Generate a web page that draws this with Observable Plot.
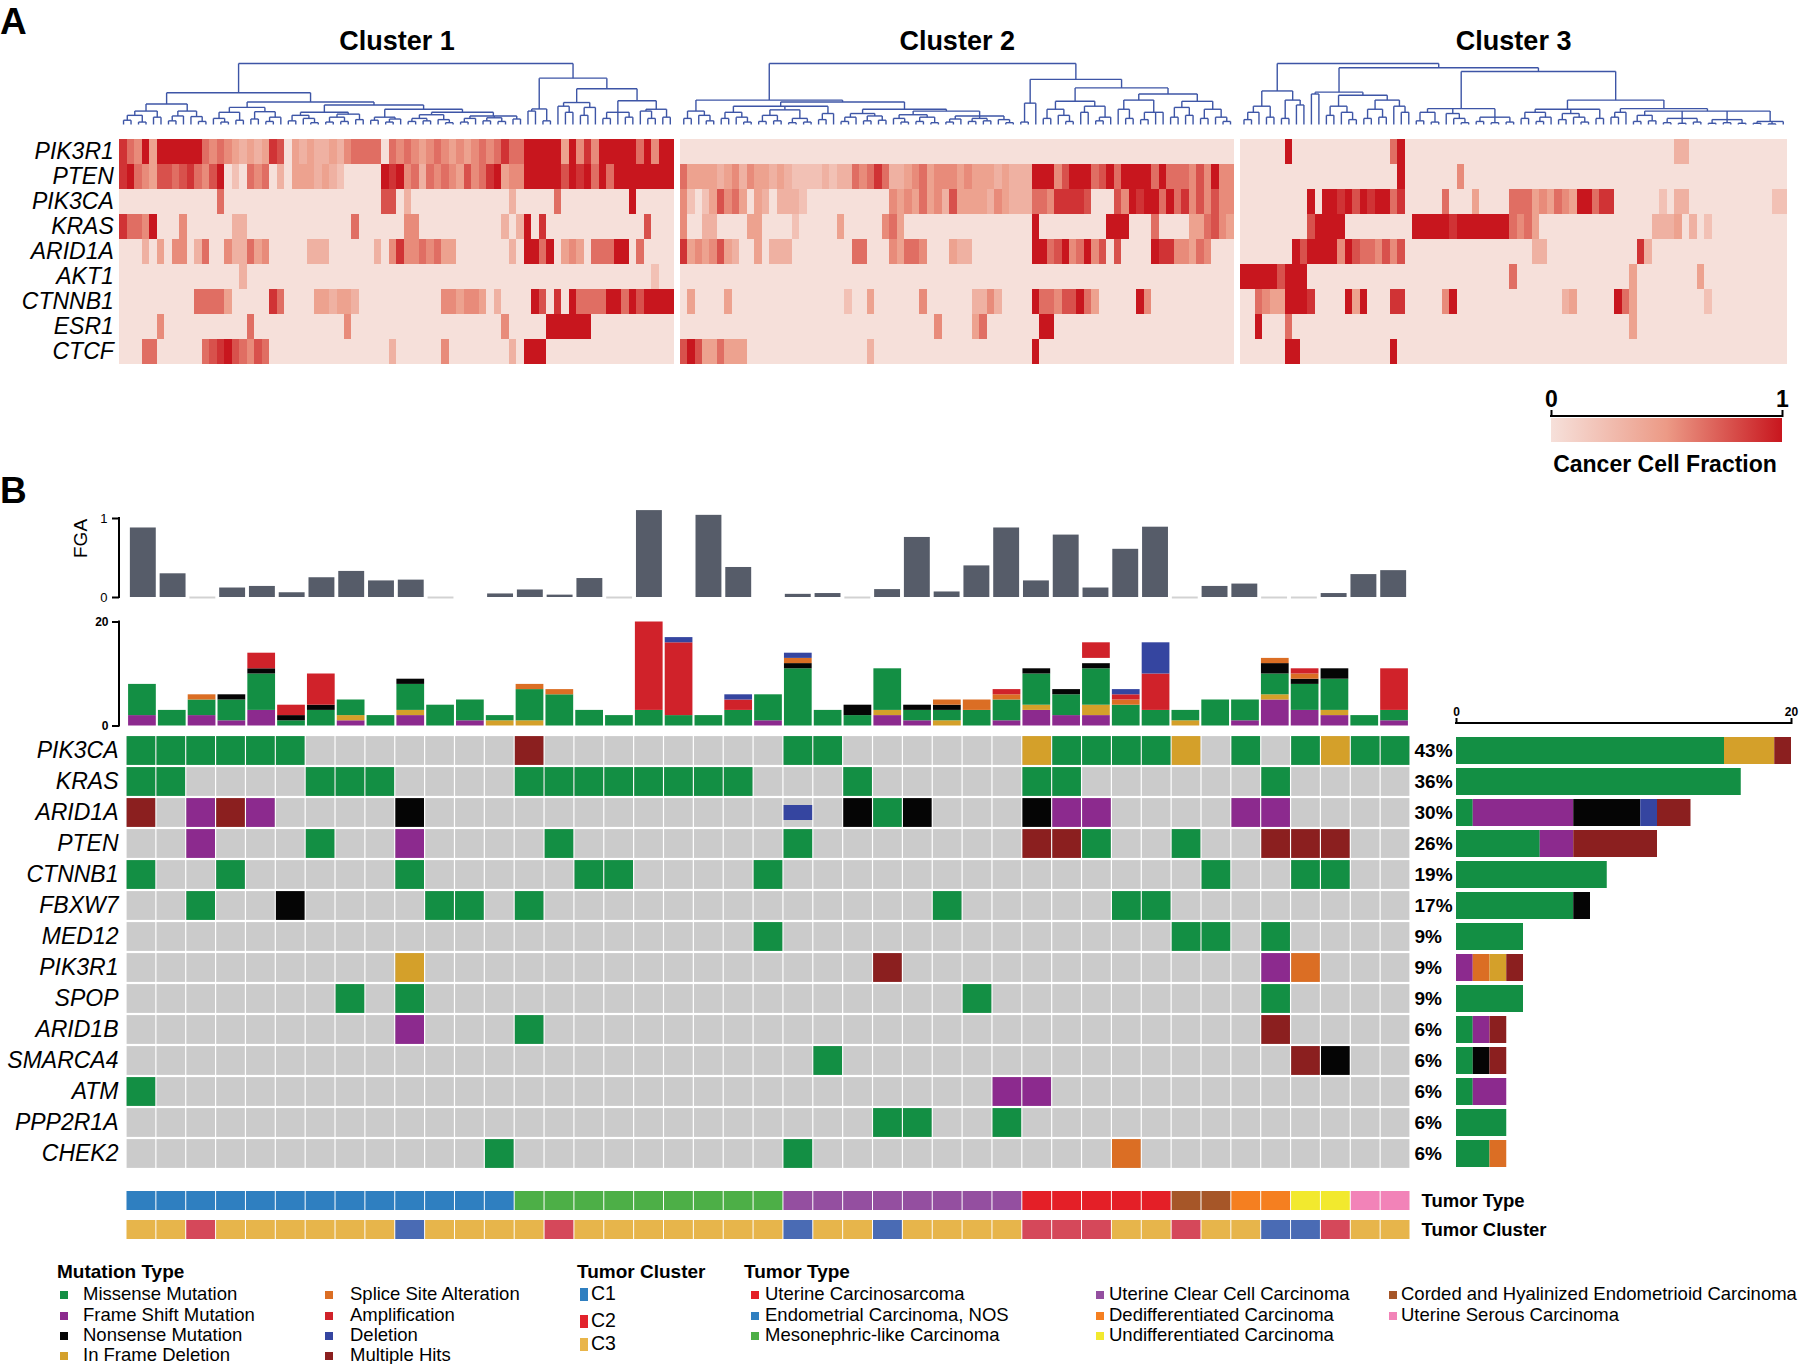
<!DOCTYPE html>
<html><head><meta charset="utf-8">
<script src="https://cdn.jsdelivr.net/npm/d3@7"></script>
<script src="https://cdn.jsdelivr.net/npm/@observablehq/plot@0.6"></script>
<style>
body{margin:0;background:#fff;}
#root{position:relative;width:1800px;height:1364px;overflow:hidden;font-family:"Liberation Sans",Arial,sans-serif;color:#000;background:#fff;}
</style></head><body><div id="root"></div>
<script>
// ---------------- DATA: Panel A (cancer cell fraction, digits 0-9 => 0..1) ----------------
const heatGenes = ["PIK3R1","PTEN","PIK3CA","KRAS","ARID1A","AKT1","CTNNB1","ESR1","CTCF"];
const clusterNames = ["Cluster 1","Cluster 2","Cluster 3"];
const clusterCols = [74, 74, 73];
const clusterStart = [0, 74.8, 149.6];
// each gene: [cluster1, cluster2, cluster3]
const ccfPIK3R1 = [
  "8659499999"+"9656543434"+"8704343343"+"5666606565"+"4565454565"+"6866999994"+"9585999996"+"9599",
  "0000000000"+"0000000000"+"0000000000"+"0000000000"+"0000000000"+"0000000000"+"0000000000"+"0000",
  "0000009000"+"0000000000"+"6900000000"+"0000000000"+"0000000000"+"0000000033"+"0000000000"+"000"];
const ccfPTEN = [
  "8965477678"+"6579020656"+"0304443432"+"0000098956"+"3656547568"+"9455999997"+"9896969999"+"9999",
  "6444434535"+"4434322223"+"2336568633"+"4564555454"+"4434333999"+"5799967969"+"9996966657"+"5955",
  "0000000000"+"0000000000"+"0900000005"+"0000000000"+"0000000000"+"0000000000"+"0000000000"+"000"];
const ccfPIK3CA = [
  "0000000000"+"0006000000"+"0000000000"+"0000077030"+"0000000000"+"0030000060"+"0000000090"+"0000",
  "5202475640"+"4303332000"+"0000000054"+"5464537444"+"4354333665"+"8888700075"+"9899696857"+"5755",
  "0000000009"+"0998979899"+"6800000600"+"0400006664"+"5465499688"+"0000002033"+"0000000000"+"022"];
const ccfKRAS = [
  "8665900050"+"0000033000"+"0000000000"+"0600000055"+"0000000000"+"0303908000"+"0000000000"+"7000",
  "5003300004"+"4000020000"+"0400000564"+"0000000000"+"0000000900"+"0000000999"+"0006000044"+"6754",
  "0000000007"+"9999000000"+"0009999989"+"9999996564"+"0000000000"+"0000033340"+"3020000000"+"000"];
const ccfARID1A = [
  "0003040550"+"3600533645"+"0000033300"+"0000305855"+"6564400000"+"0030996904"+"5406669906"+"0000",
  "8454574300"+"4033300000"+"0006600054"+"6650004330"+"0000000996"+"7956957070"+"0009885546"+"5000",
  "0000000979"+"9995976657"+"5700000000"+"0000000003"+"3000000000"+"0008300000"+"0000000000"+"000"];
const ccfAKT1 = [
  "0000000000"+"0000003000"+"0000000000"+"0000000000"+"0000000000"+"0000000000"+"0000000000"+"0200",
  "0000000000"+"0000000000"+"0000000000"+"0000000000"+"0000000000"+"0000000000"+"0000000000"+"0000",
  "9999979990"+"0000000000"+"0000000000"+"0000006000"+"0000000000"+"0040000000"+"0400000000"+"000"];
const ccfCTNNB1 = [
  "0000000000"+"6666400000"+"8600004434"+"4300000000"+"0005545540"+"3000097080"+"9666699697"+"9999",
  "0400004000"+"0000000000"+"0020040000"+"0050000003"+"3530000966"+"5779640000"+"0950000000"+"0000",
  "0065449998"+"0000949000"+"8800000590"+"0000000000"+"0003400000"+"9640000000"+"0020000000"+"000"];
const ccfESR1 = [
  "0000050000"+"0000000600"+"0000000000"+"5000000000"+"0000000000"+"0500000999"+"9990000000"+"0000",
  "0000000000"+"0000000000"+"0000000000"+"0000500004"+"6000000099"+"0000000000"+"0000000000"+"0000",
  "0090006000"+"0000000000"+"0000000000"+"0000000000"+"0000000000"+"0040000000"+"0000000000"+"000"];
const ccfCTCF = [
  "0006600000"+"0678976576"+"0000000000"+"0000003000"+"0005000000"+"0030999000"+"0000000000"+"0000",
  "7974464440"+"0000000000"+"0000030000"+"0000000000"+"0000000900"+"0000000000"+"0000000000"+"0000",
  "0000009900"+"0000000000"+"9000000000"+"0000000000"+"0000000000"+"0000000000"+"0000000000"+"000"];
const heatRows = [ccfPIK3R1, ccfPTEN, ccfPIK3CA, ccfKRAS, ccfARID1A, ccfAKT1, ccfCTNNB1, ccfESR1, ccfCTCF];

// dendrograms: node = [height, ...children], leaf = 0
const dendro1 = [1.0,
  [0.52,
    [0.335,
      [0.22,[0.15,[0.07,0,0],[0.04,0,0]],[0.12,0,0]],
      [0.22,[0.14,[0.06,0,0],0],[0.13,0,[0.05,0,0]]]],
    [0.37,
      [0.28,[0.2,[0.1,0,[0.04,0,0]],[0.07,0,0]],[0.21,[0.09,0,0],[0.12,[0.05,0,0],0]]],
      [0.32,
        [0.2,[0.15,[0.06,0,0],[0.1,0,[0.03,0,0]]],[0.17,[0.12,[0.04,0,0],[0.05,0,0]],[0.08,0,0]]],
        [0.25,
          [0.12,[0.07,0,0],[0.09,[0.04,0,0],0]],
          [0.2,
            [0.16,[0.1,[0.05,0,0],[0.06,0,0]],[0.08,0,[0.03,0,0]]],
            [0.14,[0.1,[0.04,0,0],0],[0.11,[0.06,0,0],[0.05,0,0]],[0.09,0,0]]]]]]],
  [0.76,
    [0.255,[0.22,0,0],[0.06,0,0]],
    [0.585,
      [0.36,[0.3,0,[0.2,0,0]],[0.28,[0.15,0,0],0]],
      [0.39,[0.2,[0.1,0,0],0,[0.12,0,0]],[0.25,[0.22,0,[0.1,0,0]],[0.12,0,0]]]]]];
const dendro2 = [1.0,
  [0.40,
    [0.22,[0.1,0,0],[0.15,0,[0.06,0,0]]],
    [0.37,
      [0.3,[0.2,[0.1,0,0],[0.12,0,[0.04,0,0]]],[0.24,[0.15,[0.05,0,0],[0.06,0,0]],[0.1,[0.03,0,0],[0.04,0,0]]],[0.18,[0.08,0,0],0]],
      [0.25,
        [0.18,[0.12,[0.05,0,0],0],[0.14,[0.06,0,0],[0.07,0,0]]],
        [0.22,
          [0.16,[0.1,0,[0.04,0,0]],[0.12,[0.05,0,0],[0.03,0,0]]],
          [0.14,[0.09,[0.04,0,0],0],[0.1,[0.05,0,0],[0.06,0,0]],[0.08,0,[0.03,0,0]]]]]]],
  [0.74,
    [0.35,[0.04,0,0],0],
    [0.6,
      [0.38,[0.25,[0.1,0,0],[0.15,0,[0.05,0,0]]],[0.3,[0.2,0,0],[0.12,[0.06,0,0],0]]],
      [0.5,[0.4,[0.25,0,[0.1,0,0]],[0.2,[0.08,0,0],0,0]],[0.38,[0.28,[0.12,0,0],[0.15,0,0]],[0.25,[0.1,0,0],[0.12,0,[0.05,0,0]]]]]]]];
const dendro3 = [1.0,
  [0.55,
    [0.3,[0.2,[0.08,0,0],0],[0.12,0,0]],
    [0.4,[0.1,0,0],[0.32,0,0]]],
  [0.93,
    [0.53,
      [0.5,0,0],
      [0.48,[0.3,[0.15,0,0],[0.2,0,[0.08,0,0]]],[0.4,[0.25,[0.1,0,0],[0.12,0,0]],[0.3,0,[0.2,0,0]]]]],
    [0.87,
      [0.26,[0.2,[0.06,0,0],[0.04,0,0]],[0.18,0,[0.1,0,[0.03,0,0]]],[0.12,[0.05,0,0],[0.03,0,0],[0.04,0,0]]],
      [0.40,
        [0.25,[0.2,[0.1,0,0],[0.12,[0.05,0,0],0]],[0.18,[0.08,0,0],[0.12,0,[0.04,0,0]]],[0.1,0,0]],
        [0.26,[0.2,[0.12,0,0],0],[0.22,[0.15,[0.05,0,0],[0.06,0,0]],[0.1,[0.03,0,0],[0.02,0,0],[0.04,0,0]],[0.08,[0.02,0,0],[0.03,0,0],[0.02,0,0]],[0.05,[0.02,0,0],[0.01,0,0],0]]]]]]];
const dendros = [dendro1, dendro2, dendro3];

const ccfColorDomain = [0, 0.5, 1];
const ccfColorRange = ["#f6e0da", "#ec9a86", "#c8161e"];

// ---------------- DATA: Panel B ----------------
const fga = [0.88,0.30,0,0.12,0.14,0.06,0.25,0.33,0.21,0.22, 0,null,0.045,0.095,0.03,0.24,0,1.10,null,1.04,
             0.38,null,0.04,0.05,0,0.10,0.76,0.07,0.40,0.88, 0.21,0.79,0.12,0.61,0.89,0,0.14,0.17,0,0, 0.05,0.29,0.34];
const countFrameShift = [2,0,2,1,3,0,0,1,0,2, 0,1,0,0,0,0,0,0,0,0, 0,1,0,0,0,2,1,0,0,1, 3,2,2,0,0,0,0,1,5,3, 2,0,1];
const countInFrame    = [0,0,0,0,0,0,0,1,0,1, 0,0,1,1,0,0,0,0,0,0, 0,0,0,0,0,1,0,1,0,0, 1,0,2,0,0,1,0,0,1,0, 1,0,0];
const countMissense   = [6,3,3,4,7,1,3,3,2,5, 4,4,1,6,6,3,2,3,2,2, 3,5,11,3,2,8,2,2,3,4, 6,4,7,4,3,2,5,4,4,5, 6,2,2];
const countNonsense   = [0,0,0,1,1,1,1,0,0,1, 0,0,0,0,0,0,0,0,0,0, 0,0,1,0,2,0,1,1,0,0, 1,1,1,0,0,0,0,0,2,1, 2,0,0];
const countSplice     = [0,0,1,0,0,0,0,0,0,0, 0,0,0,1,1,0,0,0,0,0, 0,0,1,0,0,0,0,1,2,1, 0,0,0,1,0,0,0,0,1,1, 0,0,0];
const countUnlabeled  = [0,0,0,0,0,0,0,0,0,0, 0,0,0,0,0,0,0,0,0,0, 0,0,0,0,0,0,0,0,0,0, 0,0,1,0,0,0,0,0,0,0, 0,0,0];
const countAmp        = [0,0,0,0,3,2,6,0,0,0, 0,0,0,0,0,0,0,17,14,0, 2,0,0,0,0,0,0,0,0,1, 0,0,3,1,7,0,0,0,0,1, 0,0,8];
const countDeletion   = [0,0,0,0,0,0,0,0,0,0, 0,0,0,0,0,0,0,0,1,0, 1,0,1,0,0,0,0,0,0,0, 0,0,0,1,6,0,0,0,0,0, 0,0,0];

const genes = ["PIK3CA","KRAS","ARID1A","PTEN","CTNNB1","FBXW7","MED12","PIK3R1","SPOP","ARID1B","SMARCA4","ATM","PPP2R1A","CHEK2"];
const genePct = [43,36,30,26,19,17,9,9,9,6,6,6,6,6];
// M missense, F frame shift, N nonsense, I in-frame deletion, S splice, A amplification, D deletion, H multiple hits
const oncoPIK3CA  = "MMMMMM...."+"...H......"+"..MM......"+"IMMMMI.M.M"+"IMM";
const oncoKRAS    = "MM....MMM."+"...MMMMMMM"+"M...M....."+"MM......M."+"...";
const oncoARID1A  = "H.FHF....N"+".........."+"..D.NMN..."+"NFF....FF."+"...";
const oncoPTEN    = "..F...M..F"+"....M....."+"..M......."+"HHM..M..HH"+"H..";
const oncoCTNNB1  = "M..M.....M"+".....MM..."+".M........"+"......M..M"+"M..";
const oncoFBXW7   = "..M..N...."+"MM.M......"+".......M.."+"...MM....."+"...";
const oncoMED12   = ".........."+".........."+".M........"+".....MM.M."+"...";
const oncoPIK3R1  = ".........I"+".........."+".....H...."+"........FS"+"...";
const oncoSPOP    = ".......M.M"+".........."+"........M."+"........M."+"...";
const oncoARID1B  = ".........F"+"...M......"+".........."+"........H."+"...";
const oncoSMARCA4 = ".........."+".........."+"...M......"+".........H"+"N..";
const oncoATM     = "M........."+".........."+".........F"+"F........."+"...";
const oncoPPP2R1A = ".........."+".........."+".....MM..M"+".........."+"...";
const oncoCHEK2   = ".........."+"..M......."+"..M......."+"...S......"+"...";
const oncoRows = [oncoPIK3CA,oncoKRAS,oncoARID1A,oncoPTEN,oncoCTNNB1,oncoFBXW7,oncoMED12,oncoPIK3R1,oncoSPOP,oncoARID1B,oncoSMARCA4,oncoATM,oncoPPP2R1A,oncoCHEK2];

const mutCodes  = ["M","F","N","I","S","A","D","H","G"];
const mutNames  = ["Missense Mutation","Frame Shift Mutation","Nonsense Mutation","In Frame Deletion","Splice Site Alteration","Amplification","Deletion","Multiple Hits",""];
const mutColors = ["#138f44","#8c2a8e","#050505","#d4a02a","#db6e24","#d0222a","#3545a0","#8b1f1f","#ffffff"];

const tumorTypeNames  = ["Uterine Carcinosarcoma","Endometrial Carcinoma, NOS","Mesonephric-like Carcinoma","Uterine Clear Cell Carcinoma","Dedifferentiated Carcinoma","Undifferentiated Carcinoma","Corded and Hyalinized Endometrioid Carcinoma","Uterine Serous Carcinoma"];
const tumorTypeColors = ["#e41f27","#2f7fc0","#4daf47","#944fa0","#f57f20","#f2e92e","#a65628","#f283b8"];
const tumorTypeBySample = [1,1,1,1,1,1,1,1,1,1,1,1,1, 2,2,2,2,2,2,2,2,2, 3,3,3,3,3,3,3,3, 0,0,0,0,0, 6,6, 4,4, 5,5, 7,7];
const tumorClusterBySample = [3,3,2,3,3,3,3,3,3,1, 3,3,3,3,2,3,3,3,3,3, 3,3,1,3,3,1,3,3,3,3, 2,2,2,3,3,2,3,3,1,1, 2,3,3];
const clusterAnnotColors  = ["#4a6bb4","#d5485a","#e7b54b"];
const clusterLegendColors = ["#2f7fc0","#e2222b","#e9b54a"];

// ---------------- helpers ----------------
const FONT = '"Liberation Sans", Arial, sans-serif';
const root = document.getElementById("root");
const baseStyle = {background: "transparent", overflow: "visible", fontFamily: FONT, color: "#000"};
function place(node, top) {
  node.style.position = "absolute"; node.style.left = "0px"; node.style.top = top + "px";
  node.style.maxWidth = "none";
  root.appendChild(node);
}
function addText(txt, x, baseline, size, o = {}) {
  const d = document.createElement("div");
  d.textContent = txt;
  Object.assign(d.style, {position: "absolute", left: x + "px", top: (baseline - 0.85 * size) + "px",
    fontSize: size + "px", fontWeight: o.weight || "normal", lineHeight: "1", whiteSpace: "nowrap"});
  if (o.anchor === "middle") d.style.transform = "translateX(-50%)";
  root.appendChild(d);
}
function addSwatch(color, x, cy, w = 8, h = 8) {
  const d = document.createElement("div");
  Object.assign(d.style, {position: "absolute", left: x + "px", top: (cy - h / 2) + "px", width: w + "px", height: h + "px", background: color});
  root.appendChild(d);
}
const domainLine = (dir, a, b) => (index, scales, values, dims) => {
  const l = d3.create("svg:line").attr("stroke", "#000").attr("stroke-width", 2);
  if (dir === "y") {
    const x = dims.marginLeft;
    l.attr("x1", x).attr("x2", x).attr("y1", scales.y(a) + 1).attr("y2", scales.y(b) - 1);
  } else {
    const y = dims.marginTop;
    l.attr("y1", y).attr("y2", y).attr("x1", scales.x(a) - 1).attr("x2", scales.x(b) + 1);
  }
  return l.node();
};

// ---------------- Panel A: dendrograms ----------------
function dendroSegments(spec, start, nCols) {
  let k = 0;
  function walk(n) {
    if (!Array.isArray(n)) return {x: k++, h: 0};
    const [h, ...kids] = n;
    const cs = kids.map(walk);
    return {x: (cs[0].x + cs[cs.length - 1].x) / 2, h, cs};
  }
  const tree = walk(spec);
  const X = (x) => start + (x + 0.5) * nCols / k;
  const segs = [];
  (function emit(n) {
    if (!n.cs) return;
    segs.push({x1: X(n.cs[0].x), x2: X(n.cs[n.cs.length - 1].x), y1: n.h, y2: n.h});
    for (const c of n.cs) { segs.push({x1: X(c.x), x2: X(c.x), y1: c.h, y2: n.h}); emit(c); }
  })(tree);
  return segs;
}
const dendroSegs = dendros.flatMap((t, i) => dendroSegments(t, clusterStart[i], clusterCols[i]));
const titles = clusterNames.map((name, i) => ({name, x: clusterStart[i] + clusterCols[i] / 2}));
const xDomainA = [0, clusterStart[2] + clusterCols[2]];

place(Plot.plot({
  width: 1800, height: 110, marginLeft: 119.3, marginRight: 13.5, marginTop: 43, marginBottom: 6,
  style: baseStyle,
  x: {domain: xDomainA, axis: null},
  y: {domain: [0, 1], axis: null},
  marks: [
    Plot.link(dendroSegs, {x1: "x1", y1: "y1", x2: "x2", y2: "y2", stroke: "#3d55a6", strokeWidth: 1.4}),
    Plot.text(titles, {x: "x", text: "name", frameAnchor: "top", lineAnchor: "bottom", dy: -14, fontSize: 27, fontWeight: "bold", fill: "#000"})
  ]
}), 20);

// ---------------- Panel A: heatmap ----------------
const heatCells = heatGenes.flatMap((g, gi) => heatRows[gi].flatMap((s, ci) =>
  Array.from(s.slice(0, clusterCols[ci]), (ch, j) => ({gene: g, x1: clusterStart[ci] + j, x2: clusterStart[ci] + j + 1, v: (+ch) / 9}))));

place(Plot.plot({
  width: 1800, height: 240, marginLeft: 119.3, marginRight: 13.5, marginTop: 5.5, marginBottom: 2.6,
  style: baseStyle,
  x: {domain: xDomainA, axis: null},
  y: {domain: heatGenes, padding: 0, label: null},
  color: {type: "linear", domain: ccfColorDomain, range: ccfColorRange},
  marks: [
    Plot.barX(heatCells, {x1: "x1", x2: "x2", y: "gene", fill: "v", shapeRendering: "crispEdges"}),
    Plot.axisY({tickSize: 0, tickPadding: 6, fontSize: 23, fontStyle: "italic", fill: "#000", label: null})
  ]
}), 130);

// ---------------- Panel A: CCF legend ----------------
const ccfRamp = (index, scales, values, dims) => {
  const g = d3.create("svg:g");
  const grad = g.append("defs").append("linearGradient").attr("id", "ccfgrad");
  ccfColorDomain.forEach((v, i) => grad.append("stop").attr("offset", v * 100 + "%").attr("stop-color", ccfColorRange[i]));
  g.append("rect").attr("x", scales.x(0)).attr("width", scales.x(1) - scales.x(0))
    .attr("y", dims.marginTop + 2).attr("height", dims.height - dims.marginBottom - dims.marginTop - 2)
    .attr("fill", "url(#ccfgrad)");
  return g.node();
};
place(Plot.plot({
  width: 1800, height: 65, marginLeft: 1551, marginRight: 18, marginTop: 31, marginBottom: 8,
  style: baseStyle,
  x: {domain: [0, 1]},
  marks: [
    ccfRamp,
    Plot.axisX({anchor: "top", ticks: [0, 1], tickSize: 7, tickPadding: 3, fontSize: 23, fontWeight: "bold", strokeWidth: 2, tickFormat: d3.format("d"), label: null}),
    domainLine("x", 0, 1)
  ]
}), 385);
addText("Cancer Cell Fraction", 1665, 473, 23, {weight: "bold", anchor: "middle"});

// ---------------- Panel B: FGA ----------------
const cols = d3.range(fga.length);
const fgaData = fga.map((v, i) => ({i, v})).filter(d => d.v != null);
place(Plot.plot({
  width: 1800, height: 100, marginLeft: 119, marginRight: 390, marginTop: 18, marginBottom: 3,
  style: baseStyle,
  x: {type: "band", domain: cols, range: [126, 1410], padding: 0.13, axis: null},
  y: {domain: [0, 1]},
  marks: [
    Plot.barY(fgaData.filter(d => d.v > 0), {x: "i", y: "v", fill: "#565c69"}),
    Plot.tickY(fgaData.filter(d => d.v === 0), {x: "i", y: "v", stroke: "#d2d2d2", strokeWidth: 2}),
    Plot.axisY({ticks: [0, 1], tickSize: 7, tickPadding: 5, fontSize: 13, strokeWidth: 2, tickFormat: d3.format("d"), label: null}),
    domainLine("y", 0, 1),
    Plot.text(["FGA"], {text: d => d, frameAnchor: "left", dx: -39, rotate: -90, fontSize: 19, fill: "#000"})
  ]
}), 500);

// ---------------- Panel B: mutation counts ----------------
const countSeries = [["F", countFrameShift], ["I", countInFrame], ["M", countMissense], ["N", countNonsense],
                     ["S", countSplice], ["G", countUnlabeled], ["A", countAmp], ["D", countDeletion]];
const countData = [];
cols.forEach(i => countSeries.forEach(([t, arr]) => { if (arr[i] > 0) countData.push({i, type: t, n: arr[i]}); }));
place(Plot.plot({
  width: 1800, height: 120, marginLeft: 119, marginRight: 390, marginTop: 11.5, marginBottom: 4.5,
  style: baseStyle,
  x: {type: "band", domain: cols, range: [126, 1410], padding: 0.07, axis: null},
  y: {domain: [0, 20]},
  color: {domain: mutCodes, range: mutColors},
  marks: [
    Plot.barY(countData, {x: "i", y: "n", fill: "type"}),
    Plot.axisY({ticks: [0, 20], tickSize: 7, tickPadding: 4, fontSize: 12, fontWeight: "bold", strokeWidth: 2, label: null}),
    domainLine("y", 0, 20)
  ]
}), 610);

// ---------------- Panel B: oncoprint grid ----------------
const bgCells = genes.flatMap(g => cols.map(i => ({gene: g, i})));
const mutCells = genes.flatMap((g, gi) => Array.from(oncoRows[gi]).map((c, i) => ({gene: g, i, t: c})).filter(d => d.t !== "."));
place(Plot.plot({
  width: 1800, height: 445, marginLeft: 126, marginRight: 390, marginTop: 4.7, marginBottom: 6.3,
  style: baseStyle,
  x: {type: "band", domain: cols, padding: 0, axis: null},
  y: {domain: genes, padding: 0},
  color: {domain: mutCodes, range: mutColors},
  marks: [
    Plot.cell(bgCells, {x: "i", y: "gene", fill: "#cbcbcb", insetLeft: 0.6, insetRight: 0.6, insetTop: 1.1, insetBottom: 1.1}),
    Plot.cell(mutCells.filter(d => d.t !== "D"), {x: "i", y: "gene", fill: "t", insetLeft: 0.6, insetRight: 0.6, insetTop: 1.1, insetBottom: 1.1}),
    Plot.cell(mutCells.filter(d => d.t === "D"), {x: "i", y: "gene", fill: "t", insetLeft: 0.6, insetRight: 0.6, insetTop: 8, insetBottom: 8}),
    Plot.axisY({tickSize: 0, tickPadding: 8, fontSize: 23, fontStyle: "italic", fill: "#000", label: null})
  ]
}), 730);

// ---------------- Panel B: per-gene totals (right) ----------------
const rightOrder = ["M", "F", "N", "S", "I", "D", "H"];
const rightData = [];
genes.forEach((g, gi) => rightOrder.forEach(t => {
  const n = Array.from(oncoRows[gi]).filter(c => c === t).length;
  if (n > 0) rightData.push({gene: g, t, n});
}));
const pctData = genes.map((g, i) => ({gene: g, label: genePct[i] + "%"}));
place(Plot.plot({
  width: 1800, height: 485, marginLeft: 1456, marginRight: 9, marginTop: 33, marginBottom: 0,
  style: baseStyle,
  x: {domain: [0, 20]},
  y: {domain: genes, range: [44.7, 478.7], paddingInner: 0.14, paddingOuter: 0.07, axis: null},
  color: {domain: mutCodes, range: mutColors},
  marks: [
    Plot.barX(rightData, {x: "n", y: "gene", fill: "t"}),
    Plot.axisX({anchor: "top", ticks: [0, 20], tickSize: 6, tickPadding: 2, fontSize: 12, fontWeight: "bold", strokeWidth: 2, label: null}),
    domainLine("x", 0, 20),
    Plot.text(pctData, {y: "gene", text: "label", frameAnchor: "left", dx: -42, textAnchor: "start", fontSize: 19, fontWeight: "bold", fill: "#000"})
  ]
}), 690);

// ---------------- Panel B: annotation rows ----------------
const annot = cols.flatMap(i => [
  {i, row: "Tumor Type", v: tumorTypeNames[tumorTypeBySample[i]]},
  {i, row: "Tumor Cluster", v: "C" + tumorClusterBySample[i]}
]);
place(Plot.plot({
  width: 1800, height: 70, marginLeft: 126, marginRight: 390, marginTop: 10.5, marginBottom: 10,
  style: baseStyle,
  x: {type: "band", domain: cols, padding: 0, axis: null},
  y: {domain: ["Tumor Type", "Tumor Cluster"], paddingInner: 0.33, paddingOuter: 0},
  color: {domain: [...tumorTypeNames, "C1", "C2", "C3"], range: [...tumorTypeColors, ...clusterAnnotColors]},
  marks: [
    Plot.cell(annot, {x: "i", y: "row", fill: "v", insetLeft: 0.5, insetRight: 0.5}),
    Plot.axisY({anchor: "right", tickSize: 0, tickPadding: 11, fontSize: 18.5, fontWeight: "bold", fill: "#000", label: null})
  ]
}), 1180);

// ---------------- panel letters ----------------
addText("A", 0, 34, 37, {weight: "bold"});
addText("B", 0, 503, 37, {weight: "bold"});

// ---------------- legends ----------------
const LS = 18.5;
addText("Mutation Type", 57, 1278, 19, {weight: "bold"});
const mutRowsY = [1301, 1322, 1342, 1362];
["M", "F", "N", "I"].forEach((c, r) => { const k = mutCodes.indexOf(c); addSwatch(mutColors[k], 60, mutRowsY[r] - 6); addText(mutNames[k], 83, mutRowsY[r], LS); });
["S", "A", "D", "H"].forEach((c, r) => { const k = mutCodes.indexOf(c); addSwatch(mutColors[k], 325, mutRowsY[r] - 6); addText(mutNames[k], 350, mutRowsY[r], LS); });

addText("Tumor Cluster", 577, 1278, 19, {weight: "bold"});
const clRowsY = [1301, 1328, 1351];
["C1", "C2", "C3"].forEach((c, r) => { addSwatch(clusterLegendColors[r], 580, clRowsY[r] - 7, 8, 13); addText(c, 591, clRowsY[r], 19.5); });

addText("Tumor Type", 744, 1278, 19, {weight: "bold"});
const ttRowsY = [1301, 1322, 1342];
const ttCols = [[0, 1, 2], [3, 4, 5], [6, 7]];
const ttColX = [[751, 765], [1096, 1109], [1389, 1401]];
ttCols.forEach((list, ci) => list.forEach((k, r) => {
  addSwatch(tumorTypeColors[k], ttColX[ci][0], ttRowsY[r] - 6);
  addText(tumorTypeNames[k], ttColX[ci][1], ttRowsY[r], LS);
}));
</script></body></html>
